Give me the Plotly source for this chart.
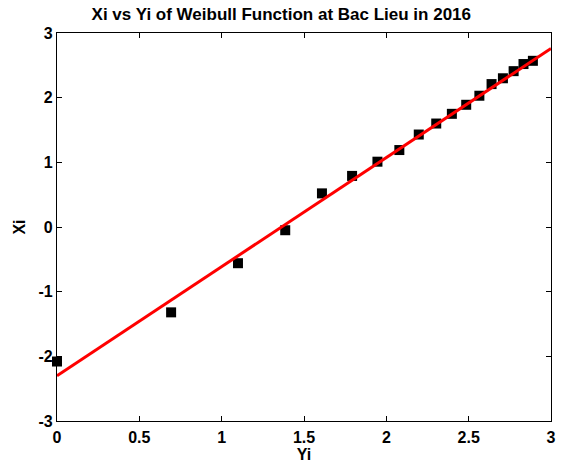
import numpy as np
import plotly.graph_objects as go

yi = [0.0, 0.693, 1.099, 1.386, 1.609, 1.792, 1.946, 2.079, 2.197, 2.303,
      2.398, 2.485, 2.565, 2.639, 2.708, 2.773, 2.833, 2.890]
xi = [-2.08, -1.32, -0.56, -0.05, 0.52, 0.79, 1.01, 1.19, 1.43, 1.60,
      1.75, 1.89, 2.03, 2.21, 2.30, 2.41, 2.52, 2.57]
fit_slope = 1.687
fit_intercept = -2.30
fit_x = [0.0, 3.0]

x_tickvals = [0, 0.5, 1, 1.5, 2, 2.5, 3]
x_ticktext = ["0", "0.5", "1", "1.5", "2", "2.5", "3"]
y_tickvals = [-3, -2, -1, 0, 1, 2, 3]
y_ticktext = ["-3", "-2", "-1", "0", "1", "2", "3"]

fit_y = [fit_intercept + fit_slope * v for v in fit_x]

fig = go.Figure()
fig.add_trace(go.Scatter(x=yi, y=xi, mode="markers",
                         marker=dict(symbol="square", size=10, color="black"),
                         cliponaxis=False, showlegend=False))
fig.add_trace(go.Scatter(x=fit_x, y=fit_y, mode="lines",
                         line=dict(color="#ff0000", width=3),
                         showlegend=False))

font = "Liberation Sans, Arial, sans-serif"
axis_common = dict(showline=True, linecolor="black", linewidth=1.2, mirror="ticks",
                   ticks="inside", ticklen=5, tickcolor="black", showgrid=False,
                   zeroline=False, automargin=False,
                   tickfont=dict(family=font, size=16, color="black", weight="bold"))

fig.update_layout(
    width=566, height=463,
    margin=dict(l=57, r=15, t=33, b=42, autoexpand=False),
    paper_bgcolor="white", plot_bgcolor="white",
    title=dict(text="Xi vs Yi of Weibull Function at Bac Lieu in 2016",
               x=0.497, xanchor="center", y=0.969, yanchor="middle",
               font=dict(family=font, size=17, color="black", weight="bold")),
    xaxis=dict(range=[0, 3], tickvals=x_tickvals, ticktext=x_ticktext,
               ticklabelstandoff=2,
               title=dict(text="Yi", standoff=0,
                          font=dict(family=font, size=16, color="black", weight="bold")),
               **axis_common),
    yaxis=dict(range=[-3, 3], tickvals=y_tickvals, ticktext=y_ticktext,
               title=dict(text="Xi", standoff=8,
                          font=dict(family=font, size=16, color="black", weight="bold")),
               **axis_common),
)

fig.write_html("out.html", config={"displayModeBar": False},
               post_script="document.body.style.margin='0';document.body.style.overflow='hidden';")
